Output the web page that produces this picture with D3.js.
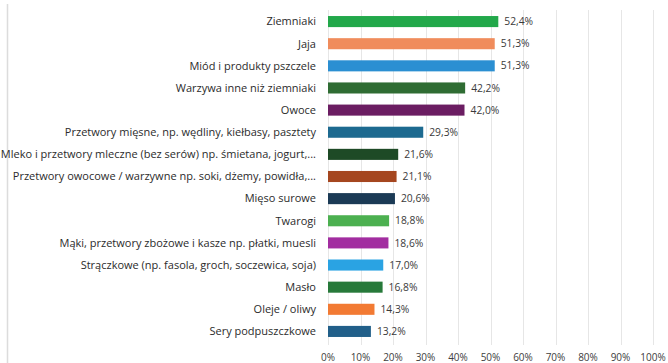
<!DOCTYPE html>
<html><head><meta charset="utf-8">
<script src="https://cdn.jsdelivr.net/npm/d3@7"></script>
<style>body{margin:0;background:#fff;}svg{display:block;font-family:"Open Sans","Noto Sans",sans-serif;}</style>
</head><body><svg id="c" width="668" height="363"></svg>
<script>
const categories = ["Ziemniaki","Jaja","Miód i produkty pszczele","Warzywa inne niż ziemniaki","Owoce","Przetwory mięsne, np. wędliny, kiełbasy, pasztety","Mleko i przetwory mleczne (bez serów) np. śmietana, jogurt,...","Przetwory owocowe / warzywne np. soki, dżemy, powidła,...","Mięso surowe","Twarogi","Mąki, przetwory zbożowe i kasze np. płatki, muesli","Strączkowe (np. fasola, groch, soczewica, soja)","Masło","Oleje / oliwy","Sery podpuszczkowe"];
const values = [52.4,51.3,51.3,42.2,42.0,29.3,21.6,21.1,20.6,18.8,18.6,17.0,16.8,14.3,13.2];
const colors = ["#22a84a","#f08c5c","#2b8fd2","#2f6c33","#6b1d62","#1d6a90","#1e4a26","#a5461f","#1b3a55","#4cb050","#a22da0","#2aa3e3","#27793a","#f27a33","#215f89"];
const ticks = [0,10,20,30,40,50,60,70,80,90,100];

const svg = d3.select("#c");
const x = d3.scaleLinear().domain([0,100]).range([328,653]);
const y = d3.scaleBand().domain(categories).range([10.5,342.5]).paddingInner(0.5).paddingOuter(0.25);

svg.append("line").attr("x1",7.5).attr("x2",7.5).attr("y1",4).attr("y2",363).attr("stroke","#dcdcdc").attr("stroke-width",1.5);

svg.append("g").selectAll("line").data(ticks).join("line")
  .attr("x1",d=>Math.round(x(d))+0.5).attr("x2",d=>Math.round(x(d))+0.5)
  .attr("y1",10).attr("y2",345).attr("stroke","#e6e6e6").attr("stroke-width",1);

svg.append("g").selectAll("rect").data(values).join("rect")
  .attr("x",x(0)).attr("y",(d,i)=>y(categories[i]))
  .attr("width",d=>x(d)-x(0)).attr("height",y.bandwidth())
  .attr("fill",(d,i)=>colors[i]);

svg.append("g").selectAll("text").data(values).join("text")
  .attr("x",d=>x(d)+6).attr("y",(d,i)=>y(categories[i])+y.bandwidth()/2)
  .attr("dy","0.35em").attr("font-size",10.3).attr("fill","#3a3a3a")
  .text(d=>d.toFixed(1).replace(".",",")+"%");

svg.append("g").selectAll("text").data(categories).join("text")
  .attr("x",316).attr("y",d=>y(d)+y.bandwidth()/2).attr("dy","0.35em")
  .attr("text-anchor","end").attr("font-size",11).attr("fill","#2b2b2b")
  .text(d=>d);

svg.append("g").selectAll("text").data(ticks).join("text")
  .attr("x",d=>x(d)).attr("y",357).attr("dy","0.35em").attr("text-anchor","middle")
  .attr("font-size",10).attr("fill","#404040").text(d=>d+"%");
</script></body></html>
